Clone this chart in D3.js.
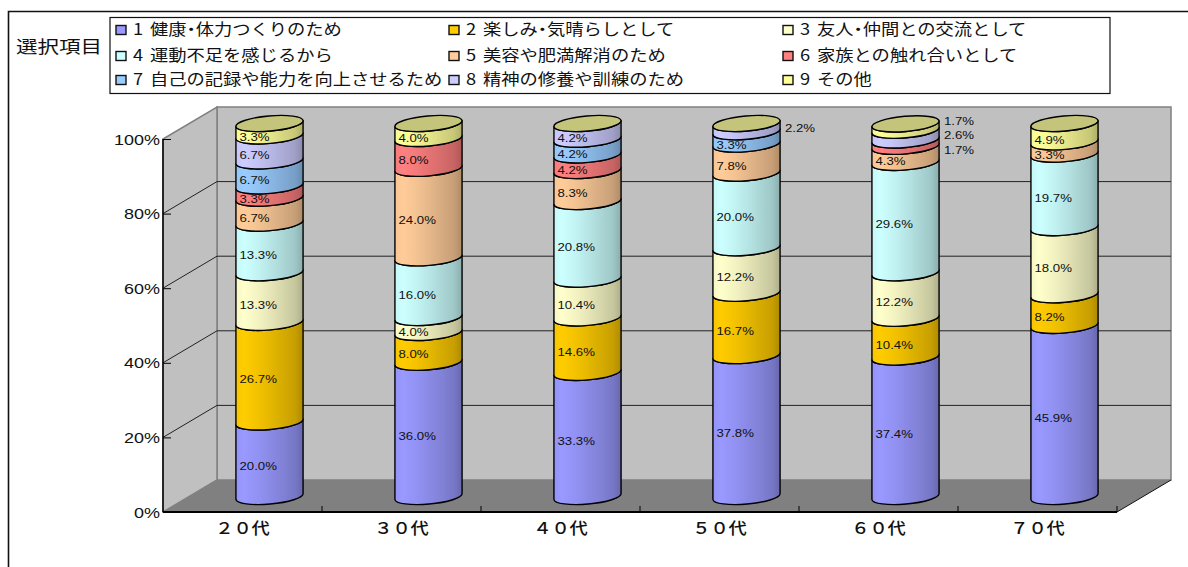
<!DOCTYPE html>
<html lang="ja"><head><meta charset="utf-8">
<script src="https://cdn.jsdelivr.net/npm/d3@7"></script>
<style>
html,body{margin:0;padding:0;background:#fff;overflow:hidden}
svg{display:block}
.jp{font-family:"Noto Sans CJK JP","Noto Sans",sans-serif;font-feature-settings:"halt"}
.fw{font-family:"Noto Sans CJK JP","Noto Sans",sans-serif;font-feature-settings:"fwid";font-weight:500}
.lat{font-family:"Liberation Sans",Arial,sans-serif}
</style></head><body>
<svg id="c" width="1188" height="567"></svg>
<script>
const categories=["20代","30代","40代","50代","60代","70代"];
const seriesNames=["健康・体力つくりのため","楽しみ・気晴らしとして","友人・仲間との交流として","運動不足を感じるから","美容や肥満解消のため","家族との触れ合いとして","自己の記録や能力を向上させるため","精神の修養や訓練のため","その他"];
const seriesColors=["#9999FF","#FFCC00","#FFFFCC","#CCFFFF","#FFCC99","#FF8080","#99CCFF","#CCCCFF","#FFFF99"];
const s1=[20.0,36.0,33.3,37.8,37.4,45.9];
const s2=[26.7,8.0,14.6,16.7,10.4,8.2];
const s3=[13.3,4.0,10.4,12.2,12.2,18.0];
const s4=[13.3,16.0,20.8,20.0,29.6,19.7];
const s5=[6.7,24.0,8.3,7.8,4.3,3.3];
const s6=[3.3,8.0,4.2,0,1.7,0];
const s7=[6.7,0,4.2,3.3,0,0];
const s8=[6.7,0,4.2,2.2,2.6,0];
const s9=[3.3,4.0,0,0,1.7,4.9];
const seriesValues=[s1,s2,s3,s4,s5,s6,s7,s8,s9];
const yTicks=[0,20,40,60,80,100];
const legendTitle="選択項目";

const svg=d3.select("#c");
const defs=svg.append("defs");
// geometry of the pseudo-3D box
const x0=163,x1=1117,yBot=512,yTop=139,depthX=54,depthY=-32;
const x=d3.scaleBand().domain(categories).range([x0,x1]);
const y=d3.scaleLinear().domain([0,100]).range([yBot,yTop]);
const barRx=33.7,barRy=7.6,tilt=-5,barShift=27,barDrop=-15.5;
const sinT=Math.sin(tilt*Math.PI/180),cosT=Math.cos(tilt*Math.PI/180);

// frame
svg.append("path").attr("d","M8.5,567V11.5H1188").attr("fill","none").attr("stroke","#111").attr("stroke-width",1.6);

// walls
const wall="#C0C0C0",edge="#808080";
const g=svg.append("g");
g.append("path").attr("d",`M${x0+depthX},${yBot+depthY}V${yTop+depthY}H${x1+depthX}V${yBot+depthY}Z`).attr("fill",wall).attr("stroke",edge).attr("stroke-width",1.5);
g.append("path").attr("d",`M${x0},${yBot}V${yTop}L${x0+depthX},${yTop+depthY}V${yBot+depthY}Z`).attr("fill",wall).attr("stroke",edge).attr("stroke-width",1.5);
g.append("path").attr("d",`M${x0},${yBot}L${x0+depthX},${yBot+depthY}H${x1+depthX}L${x1},${yBot}Z`).attr("fill",edge);
// grid lines
yTicks.filter(t=>t>0&&t<100).forEach(t=>{
  g.append("path").attr("d",`M${x0},${y(t)}L${x0+depthX},${y(t)+depthY}H${x1+depthX}`).attr("fill","none").attr("stroke","#222").attr("stroke-width",1);
});
g.append("path").attr("d",`M${x1},${yBot}L${x1+depthX},${yBot+depthY}`).attr("stroke","#111").attr("stroke-width",1);

// gradients
const shade=[[0,.97],[.12,1],[.3,.96],[.5,.9],[.7,.84],[.88,.78],[1,.68]];
function mul(c,k){const r=d3.rgb(c);return d3.rgb(r.r*k,r.g*k,r.b*k).formatHex();}
seriesColors.forEach((c,i)=>{
  const lg=defs.append("linearGradient").attr("id","g"+i);
  shade.forEach(([o,k])=>lg.append("stop").attr("offset",o).attr("stop-color",mul(c,k)));
});

// bars
const bars=svg.append("g");
const labels=svg.append("g");
const outside={"3-7":[0,0],"4-8":[0,-6],"4-7":[0,0],"4-5":[0,7]};
categories.forEach((cat,ci)=>{
  const cx=x(cat)+x.bandwidth()/2+barShift;
  const dx=barRx*cosT,dy=barRx*sinT;
  let cum=0,lastTop=null;
  seriesValues.forEach((vals,si)=>{
    const v=vals[ci];
    if(!v)return;
    const yb=y(cum)+barDrop,yt=y(cum+v)+barDrop;
    const arc=`A${barRx},${barRy} ${tilt} 0 0`;
    bars.append("path")
      .attr("d",`M${cx-dx},${yt-dy}L${cx-dx},${yb-dy}${arc} ${cx+dx},${yb+dy}L${cx+dx},${yt+dy}${arc.replace(" 0 0"," 0 1")} ${cx-dx},${yt-dy}Z`)
      .attr("fill",`url(#g${si})`).attr("stroke","#000").attr("stroke-width",1.4).attr("stroke-linejoin","round");
    const mid=(yb+yt)/2;
    const key=ci+"-"+si;
    const txt=v.toFixed(1)+"%";
    let tx,ty;
    if(outside[key]){tx=cx+38.5;ty=mid+outside[key][1]+4;}
    else{tx=cx-30;ty=mid+11;}
    labels.append("text").attr("class","lat")
      .attr("transform",`translate(${tx},${ty}) scale(1.2,1)`)
      .attr("font-size",11).attr("fill","#111").text(txt);
    cum+=v;lastTop=yt;
  });
  bars.append("ellipse").attr("transform",`translate(${cx},${lastTop}) rotate(${tilt})`)
    .attr("rx",barRx).attr("ry",barRy).attr("fill","#C4C47A").attr("stroke","#000").attr("stroke-width",1.4);
});
svg.node().appendChild(labels.node());

// y axis
const yAxis=d3.axisLeft(y).tickValues(yTicks).tickSize(-8).tickFormat(d=>d+"%");
const ya=svg.append("g").attr("transform",`translate(${x0},0)`).call(yAxis);
ya.select(".domain").attr("stroke","#000").attr("stroke-width",1.5).attr("d",`M0,${yTop}V${yBot}`);
ya.selectAll(".tick line").attr("stroke","#000").attr("stroke-width",1);
ya.selectAll(".tick text").attr("class","lat").attr("font-size",15.5).attr("fill","#111")
  .attr("x",0).attr("dy",0)
  .attr("text-anchor","end")
  .attr("transform",d=>`translate(-3,${5}) scale(1.16,1)`);

// x axis
const xa=svg.append("g").attr("transform",`translate(0,${yBot})`);
xa.append("line").attr("x1",x0).attr("x2",x1).attr("stroke","#000").attr("stroke-width",1.8);
const xEdges=categories.map(c=>x(c)+x.bandwidth());
xa.selectAll("line.t").data(xEdges).join("line").attr("class","t")
  .attr("x1",d=>d).attr("x2",d=>d).attr("y1",0).attr("y2",-6).attr("stroke","#000").attr("stroke-width",1);
xa.selectAll("text").data(categories).join("text").attr("class","fw")
  .attr("transform",d=>`translate(${x(d)+x.bandwidth()/2},22) scale(1.14,1)`)
  .attr("text-anchor","middle").attr("font-size",16).attr("fill","#111").text(d=>d);

// title
svg.append("text").attr("class","jp").attr("transform","translate(16,53) scale(1.23,1)")
  .attr("font-size",17.5).attr("fill","#111").text(legendTitle);

// legend
svg.append("rect").attr("x",110).attr("y",17.5).attr("width",1000).attr("height",76)
  .attr("fill","#fff").attr("stroke","#111").attr("stroke-width",1.2);
const colX=[116,449,783],rowY=[30,56,80];
seriesNames.forEach((n,i)=>{
  const lx=colX[i%3],ly=rowY[Math.floor(i/3)];
  svg.append("rect").attr("x",lx).attr("y",ly-4.5).attr("width",10).attr("height",9)
    .attr("fill",seriesColors[i]).attr("stroke","#111").attr("stroke-width",1.4);
  const t=svg.append("text").attr("class","jp").attr("transform",`translate(${lx+17},${ly+5}) scale(1.18,1)`)
    .attr("font-size",15.5).attr("fill","#111");
  t.append("tspan").text(i+1);
  t.append("tspan").attr("dx",5.8).text(n);
});
</script>
</body></html>
